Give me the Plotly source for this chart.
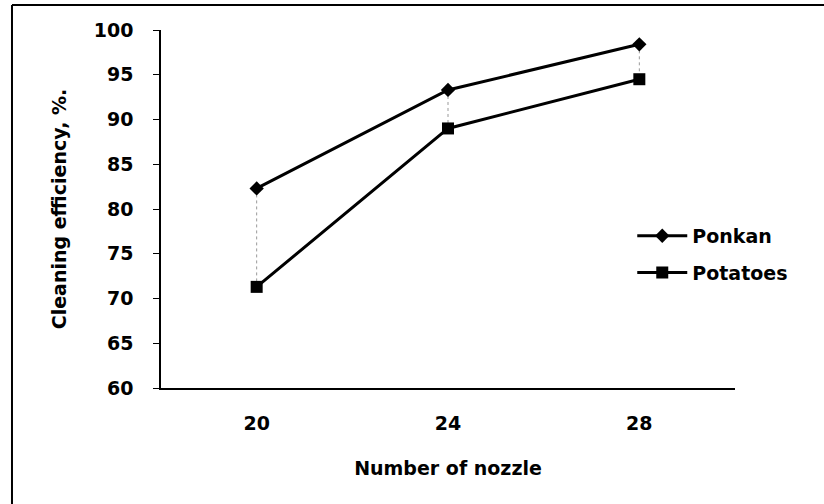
import plotly.graph_objects as go

nozzles = ["20", "24", "28"]
ponkan = [82.3, 93.3, 98.4]
potatoes = [71.3, 89.0, 94.5]

FONT = "DejaVu Sans, Verdana, sans-serif"
BOLD = dict(size=19, weight="bold")

# high-low connectors between the two series
hl_x, hl_y = [], []
for n, a, b in zip(nozzles, ponkan, potatoes):
    hl_x += [n, n, None]
    hl_y += [a, b, None]

fig = go.Figure()
fig.add_trace(go.Scatter(
    x=hl_x, y=hl_y, mode="lines", showlegend=False, hoverinfo="skip",
    line=dict(color="#999999", width=1, dash="dot"),
))
fig.add_trace(go.Scatter(
    x=nozzles, y=ponkan, mode="lines+markers", name="Ponkan", legendgroup="a",
    line=dict(color="black", width=3),
    marker=dict(symbol="diamond", size=11, color="black"),
))
fig.add_trace(go.Scatter(
    x=nozzles, y=potatoes, mode="lines+markers", name="Potatoes", legendgroup="b",
    line=dict(color="black", width=3),
    marker=dict(symbol="square", size=12, color="black"),
))

# page frame: only the top and left edges show in the scan
frame = dict(type="line", xref="paper", yref="paper", line=dict(color="black", width=2))
fig.update_layout(
    width=824, height=504,
    margin=dict(l=161, r=89, t=30, b=116),
    paper_bgcolor="white", plot_bgcolor="white",
    font=dict(family=FONT, color="black", size=19),
    legend=dict(
        x=0.821, y=0.478, xanchor="left", yanchor="top",
        font=BOLD, bgcolor="rgba(0,0,0,0)", itemwidth=50,
        tracegroupgap=9, traceorder="grouped",
    ),
    shapes=[
        dict(frame, x0=-0.2596, x1=1.16, y0=1.0698, y1=1.0698),
        dict(frame, x0=-0.2596, x1=-0.2596, y0=1.0698, y1=-0.33),
    ],
)
fig.update_xaxes(
    type="category", categoryorder="array", categoryarray=nozzles,
    range=[-0.5, 2.5],
    showline=True, linecolor="black", linewidth=1.5, showgrid=False,
    ticks="", tickfont=BOLD, ticklabelstandoff=17,
    title=dict(text="Number of nozzle", font=BOLD, standoff=29),
)
fig.update_yaxes(
    range=[60, 100], dtick=5, tick0=60,
    showline=True, linecolor="black", linewidth=1.5, showgrid=False, zeroline=False,
    ticks="outside", ticklen=6, tickcolor="black",
    tickfont=BOLD, ticklabelstandoff=16,
    title=dict(text="Cleaning efficiency, %.", font=BOLD, standoff=22),
)

# drop the default page margin so the figure sits at the window origin
fig.write_html(
    "out.html",
    config={"displayModeBar": False},
    post_script="document.body.style.margin='0';",
)
